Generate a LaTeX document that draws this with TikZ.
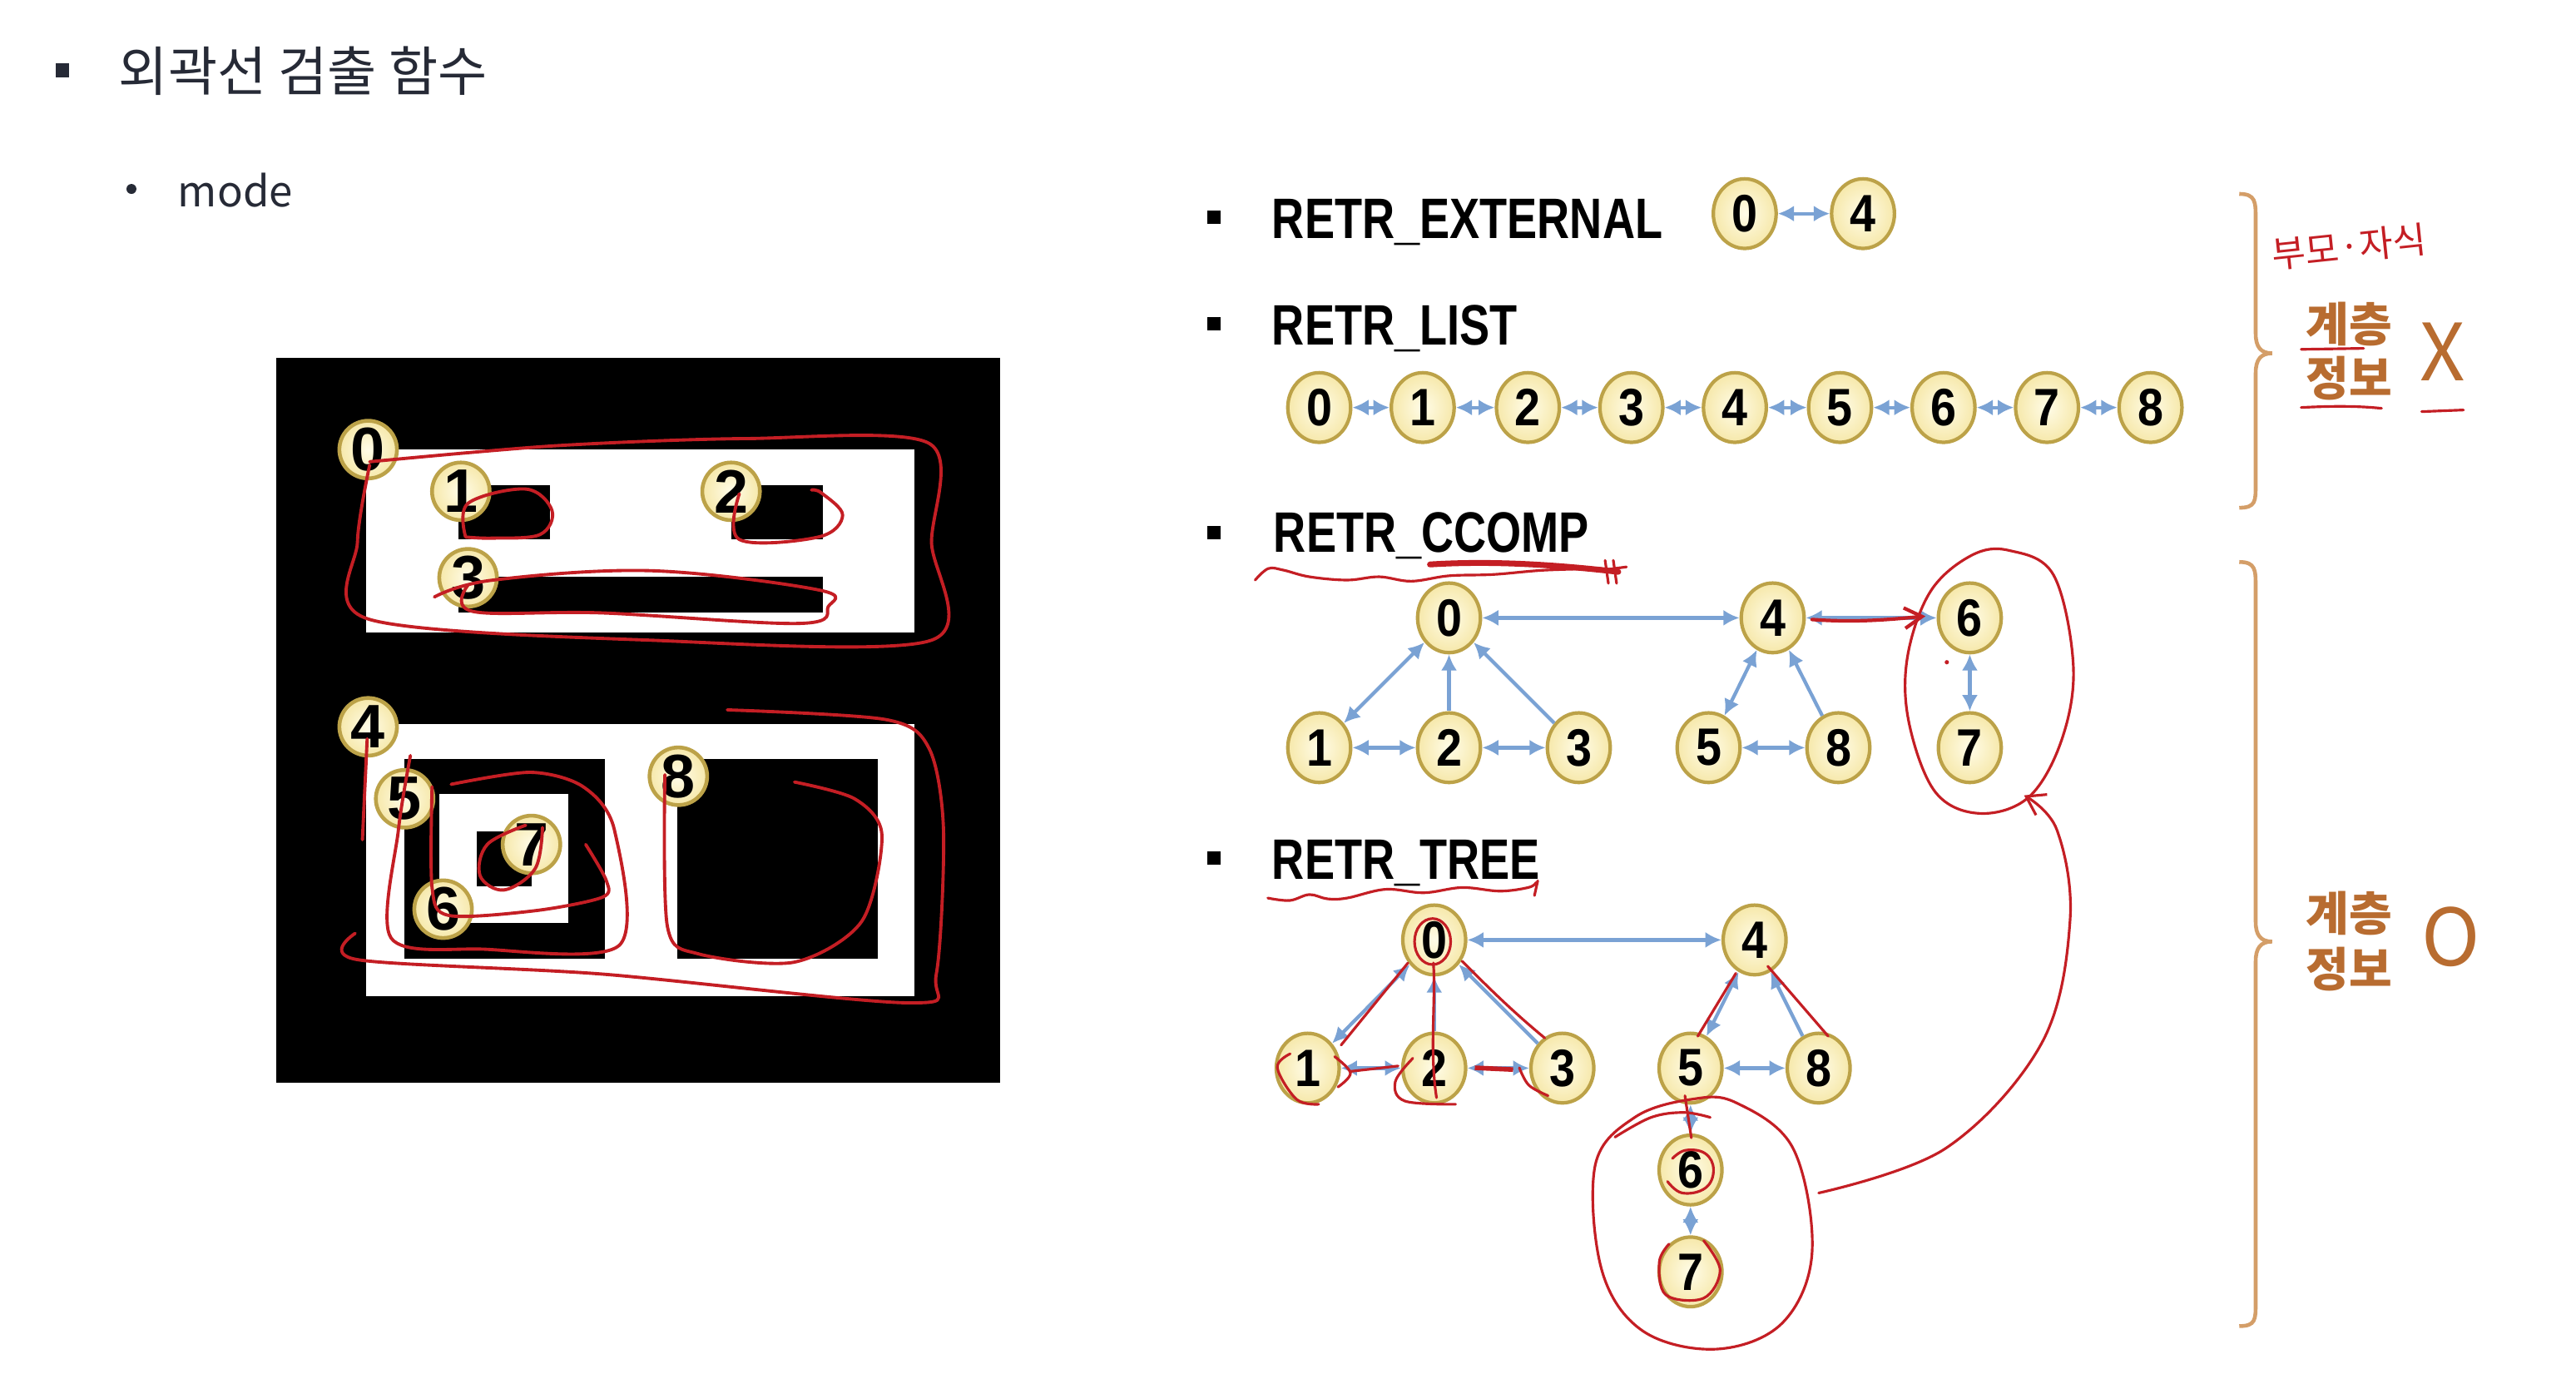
\documentclass[tikz,border=0pt]{standalone}
\usepackage{fontspec}
\setmainfont{Noto Sans CJK KR}
\newfontfamily\krfont{Noto Sans CJK KR}
\newfontfamily\numfont{Liberation Sans}
\usetikzlibrary{arrows.meta,shapes.geometric}
\definecolor{hand}{RGB}{196,30,36}
\definecolor{edgeblue}{RGB}{122,162,212}
\definecolor{badgeline}{RGB}{188,162,72}
\definecolor{copper}{RGB}{184,108,48}
\definecolor{bracec}{RGB}{212,158,104}
\definecolor{ink}{RGB}{38,42,54}
\definecolor{creamin}{RGB}{255,252,232}
\definecolor{creamout}{RGB}{246,232,170}
\tikzset{
  badge/.style={ellipse, draw=badgeline, line width=1.2pt, inner color=creamin, outer color=creamout,
    minimum width=21.5pt, minimum height=23.8pt, inner sep=0pt,
    font=\numfont\bfseries\fontsize{18}{18}\selectfont},
  lbadge/.style={circle, draw=badgeline, line width=1.3pt, inner color=creamin, outer color=creamout,
    minimum size=19.7pt, inner sep=0pt, font=\numfont\bfseries\fontsize{21}{21}\selectfont},
  bi/.style={draw=edgeblue, line width=1.2pt, arrows={Latex[length=5.5pt,width=5.5pt]-Latex[length=5.5pt,width=5.5pt]}},
  uni/.style={draw=edgeblue, line width=1.2pt, arrows={-Latex[length=5.5pt,width=5.5pt]}},
  redline/.style={draw=hand, line width=0.9pt, line cap=round, line join=round},
  redthick/.style={draw=hand, line width=1.1pt, line cap=round, line join=round},
  bul/.style={rectangle, fill=black, minimum size=4.6pt, inner sep=0pt},
  retr/.style={anchor=base west, inner sep=0pt, font=\numfont\bfseries\fontsize{19.5}{20}\selectfont},
  kor/.style={inner sep=0pt, text=copper, font=\krfont\bfseries\fontsize{16}{16}\selectfont},
  big/.style={inner sep=0pt, text=copper, font=\krfont\fontsize{27}{28}\selectfont},
  brc/.style={draw=bracec, line width=1.3pt}
}
\newcommand{\nar}[1]{\scalebox{0.88}[1]{#1}}
\begin{document}
\begin{tikzpicture}[x=0.01974cm, y=-0.01974cm]
\useasboundingbox (0,0) rectangle (1568,842);
\fill[white] (0,0) rectangle (1568,842);

% ---------- title ----------
\node[rectangle, fill=ink, minimum size=4.8pt, inner sep=0pt] (tb) at (38,43) {};
\node[anchor=west, inner sep=0pt, text=ink, font=\krfont\fontsize{18.3}{19}\selectfont] (title) at (72,43) {외곽선 검출 함수};
\node[circle, fill=ink, minimum size=3.4pt, inner sep=0pt] (mb) at (80,115) {};
\node[anchor=west, inner sep=0pt, text=ink, font=\krfont\fontsize{14.5}{15}\selectfont] (mode) at (108,116) {mode};

% ---------- left image ----------
\fill[black] (168,218) rectangle (609,659);
\fill[white] (222.9,273.6) rectangle (556.7,384.7);
\fill[black] (279,295.5) rectangle (334.6,328.3);
\fill[black] (445,295.5) rectangle (501,328.3);
\fill[black] (279,350.8) rectangle (501,373);
\fill[white] (222.9,440.8) rectangle (556.7,606);
\fill[black] (246,461.8) rectangle (368,583.5);
\fill[white] (267.3,483.2) rectangle (345.7,561.5);
\fill[black] (290.1,506) rectangle (323.5,539.3);
\fill[black] (412,461.8) rectangle (534.2,583.5);

\node[lbadge] (L0) at (224.1,273.6) {0};
\node[lbadge] (L1) at (280.5,299) {1};
\node[lbadge] (L2) at (445,299) {2};
\node[lbadge] (L3) at (284.9,351.6) {3};
\node[lbadge] (L4) at (224.1,442.3) {4};
\node[lbadge] (L5) at (246.3,486.1) {5};
\node[lbadge] (L6) at (269.7,553.3) {6};
\node[lbadge] (L7) at (323.5,513.9) {7};
\node[lbadge] (L8) at (412.9,472.4) {8};

% red contours on left image
\draw[redthick] plot[smooth, tension=0.5] coordinates {(225,281) (337.5,271.3) (454.4,266.9) (565.5,269.8) (567,330) (567,389.6) (396,389.6) (223.5,376.5) (217.6,329.7) (225,283)};
\draw[redthick] plot[smooth, tension=0.6] coordinates {(283.4,326.8) (284.9,306.3) (320,297.6) (336,310.7) (328.7,325.3) (300,327.5) (283.4,326.8)};
\draw[redthick] plot[smooth, tension=0.6] coordinates {(450,300.5) (450,328.3) (498.2,326.8) (512.9,313.6) (500,300) (493.9,298.2)};
\draw[redthick] plot[smooth, tension=0.6] coordinates {(264.4,363.3) (299.5,353.1) (396,347.3) (498.2,359) (504.1,369.2) (486.5,379.4) (366.7,373) (287.8,372.1) (284.9,356)};
\draw[redthick] (223.5,449.6) -- (220.6,511);
\draw[redthick] plot[smooth, tension=0.5] coordinates {(216.2,568) (217.6,584) (366.7,592.8) (553.8,610.3) (569.9,592.8) (574.3,505.1) (565.5,455.4) (539.2,437.9) (442.7,432)};
\draw[redthick] plot[smooth, tension=0.5] coordinates {(249.8,459.8) (242.5,505.1) (238.1,570.9) (293.6,577.6) (376.9,575.3) (374,505.1) (355,478.8) (322.9,470) (274.6,477.3)};
\draw[redthick] plot[smooth, tension=0.5] coordinates {(263,478.8) (263,540.2) (273.2,557.1) (325.8,554.2) (366.7,546) (369,535.8) (356.5,513.9)};
\draw[redthick] plot[smooth, tension=0.6] coordinates {(330.2,503.6) (325.8,528.5) (306.8,541.6) (292.2,532.9) (296.6,513.9) (320,502.2)};
\draw[redthick] plot[smooth, tension=0.5] coordinates {(404.7,471.5) (406.2,563.6) (425.2,580.5) (483.6,585.5) (524.6,560.6) (536.8,508) (520.2,486.1) (483.6,475.9)};

% ---------- RETR_EXTERNAL ----------
\node[bul] (b1) at (739,132) {};
\node[retr] (lext) at (774,145) {\scalebox{0.79}[1]{RETR\_EXTERNAL}};
\node[badge] (E0) at (1062,130) {\nar{0}};
\node[badge] (E4) at (1134,130) {\nar{4}};
\draw[bi] (E0) -- (E4);

% ---------- RETR_LIST ----------
\node[bul] (b2) at (739,197) {};
\node[retr] (llist) at (774,210) {\scalebox{0.79}[1]{RETR\_LIST}};
\node[badge] (S0) at (803,248) {\nar{0}};
\node[badge] (S1) at (866,248) {\nar{1}};
\node[badge] (S2) at (930,248) {\nar{2}};
\node[badge] (S3) at (993,248) {\nar{3}};
\node[badge] (S4) at (1056,248) {\nar{4}};
\node[badge] (S5) at (1120,248) {\nar{5}};
\node[badge] (S6) at (1183,248) {\nar{6}};
\node[badge] (S7) at (1246,248) {\nar{7}};
\node[badge] (S8) at (1309,248) {\nar{8}};
\foreach \a/\b in {0/1,1/2,2/3,3/4,4/5,5/6,6/7,7/8} \draw[bi] (S\a) -- (S\b);

% ---------- RETR_CCOMP ----------
\node[bul] (b3) at (739,324) {};
\node[retr] (lccomp) at (775,336) {\scalebox{0.79}[1]{RETR\_CCOMP}};
\node[badge] (C0) at (882,376) {\nar{0}};
\node[badge] (C4) at (1079,376) {\nar{4}};
\node[badge] (C6) at (1199,376) {\nar{6}};
\node[badge] (C1) at (803,455) {\nar{1}};
\node[badge] (C2) at (882,455) {\nar{2}};
\node[badge] (C3) at (961,455) {\nar{3}};
\node[badge] (C5) at (1040,455) {\nar{5}};
\node[badge] (C8) at (1119,455) {\nar{8}};
\node[badge] (C7) at (1199,455) {\nar{7}};
\draw[bi] (C0) -- (C4);
\draw[bi] (C4) -- (C6);
\draw[bi] (C0) -- (C1);
\draw[uni] (C2) -- (C0);
\draw[uni] (C3) -- (C0);
\draw[bi] (C1) -- (C2);
\draw[bi] (C2) -- (C3);
\draw[bi] (C4) -- (C5);
\draw[uni] (C8) -- (C4);
\draw[bi] (C5) -- (C8);
\draw[bi] (C6) -- (C7);

% ---------- RETR_TREE ----------
\node[bul] (b4) at (739,522) {};
\node[retr] (ltree) at (774,535) {\scalebox{0.79}[1]{RETR\_TREE}};
\node[badge] (T0) at (873,572) {\nar{0}};
\node[badge] (T4) at (1068,572) {\nar{4}};
\node[badge] (T1) at (796,650) {\nar{1}};
\node[badge] (T2) at (873,650) {\nar{2}};
\node[badge] (T3) at (951,650) {\nar{3}};
\node[badge] (T5) at (1029,650) {\nar{5}};
\node[badge] (T8) at (1107,650) {\nar{8}};
\node[badge] (T6) at (1029,712) {\nar{6}};
\node[badge] (T7) at (1029,774) {\nar{7}};
\draw[bi] (T0) -- (T4);
\draw[bi] (T0) -- (T1);
\draw[uni] (T2) -- (T0);
\draw[uni] (T3) -- (T0);
\draw[bi] (T1) -- (T2);
\draw[bi] (T2) -- (T3);
\draw[bi] (T4) -- (T5);
\draw[uni] (T8) -- (T4);
\draw[bi] (T5) -- (T8);
\draw[bi] (T5) -- (T6);
\draw[bi] (T6) -- (T7);

% ---------- red annotations, right ----------
% CCOMP underline
\draw[redline] plot[smooth, tension=0.6] coordinates {(764,353) (772,346) (781.4,347) (797,351) (820,353) (839.5,351) (859,353.7) (882,350.4) (909,349.6) (940,347) (975,346)};
\draw[hand, line width=2pt, line cap=round] (870.4,343.5) .. controls (910,341) and (950,344) .. (985,348);
\draw[redline] (977,341) -- (979,355);
\draw[redline] (982,341) -- (984,355);
\draw[redline] (975,347) -- (990,345);
% CCOMP 4 -> 6
\draw[hand, line width=1.2pt, line cap=round, arrows={-Straight Barb[length=6pt,width=7pt]}] (1103,377) .. controls (1130,379) and (1150,377) .. (1172,375);
\fill[hand] (1185,403) circle[radius=1.3];
% CCOMP group ellipse
\draw[redline] plot[smooth cycle, tension=0.6] coordinates {(1223,335) (1250,350) (1262,405) (1255,450) (1235,485) (1205,495) (1178,482) (1162,440) (1161,400) (1175,360) (1200,338)};
% TREE underline
\draw[redline] plot[smooth, tension=0.6] coordinates {(771.7,546.5) (785,548) (797,544.4) (808,547) (820,546.5) (843.4,541.2) (866.7,543.3) (890,540.1) (913,542.3) (930.6,540) (935,537)};
\draw[redline] (936,536) -- (934,545);
% TREE group ellipse
\draw[redline] plot[smooth cycle, tension=0.6] coordinates {(1029.5,669) (1056.6,671) (1091.5,699) (1103,762) (1085,805) (1045,821) (1000,810) (975,773) (971,709) (995,680)};
\draw[redline] plot[smooth, tension=0.6] coordinates {(983,692) (1005,680) (1025,677) (1041,680)};
% arc from tree group to ccomp group
\draw[redline, arrows={-Straight Barb[length=6pt,width=8pt]}] plot[smooth, tension=0.6] coordinates {(1107,726) (1184.5,698.7) (1242.7,634.9) (1260,560.4) (1252,505) (1232,484)};
% tree edges overlays
\draw[redline] (816.3,636) -- (857,586);
\draw[redline] (874.4,668) .. controls (870,640) and (874,610) .. (872.5,586);
\draw[redline] (940.3,631.7) .. controls (920,615) and (905,600) .. (890,584.9);
\draw[redline] (822,652) -- (851,648.7);
\draw[hand, line width=1.6pt] (897.7,649.8) -- (921,650.9);
\draw[redline] (1056.6,592.3) -- (1033.4,630.6);
\draw[redline] (1076,588) -- (1112.8,630.6);
\draw[redline] (1025.6,666.8) -- (1029.5,692.4);
% tree node circles
\draw[redline] (872,573) circle[x radius=11, y radius=14];
\draw[redline] plot[smooth, tension=0.6] coordinates {(785.3,641.3) (777.5,649.8) (789.2,669) (802.7,672)};
\draw[redline] plot[smooth, tension=0.6] coordinates {(812.4,643) (822,653) (814.4,661.5)};
\draw[redline] plot[smooth, tension=0.6] coordinates {(860,644) (849.3,658.3) (855,670) (886,672)};
\draw[redline] plot[smooth, tension=0.6] coordinates {(924.8,649.8) (930.6,660.4) (942.3,666.8)};
\draw[redline] plot[smooth, tension=0.7] coordinates {(1018,705) (1026,700) (1038,702) (1043,712) (1038,723) (1024,726) (1015,719)};
\draw[redline] plot[smooth, tension=0.6] coordinates {(1037,755) (1047,773) (1037,790) (1014,788) (1010,768) (1016,757)};

% ---------- braces and labels ----------
\draw[brc] (1363,118) .. controls (1373,118) and (1373,123) .. (1373,133) -- (1373,203) .. controls (1373,211) and (1376,215) .. (1383,215) .. controls (1376,215) and (1373,219) .. (1373,227) -- (1373,295) .. controls (1373,305) and (1373,309) .. (1363,309);
\draw[brc] (1363,342) .. controls (1373,342) and (1373,347) .. (1373,357) -- (1373,561) .. controls (1373,569) and (1376,573) .. (1383,573) .. controls (1376,573) and (1373,577) .. (1373,585) -- (1373,793) .. controls (1373,803) and (1373,807) .. (1363,807);

\node[inner sep=0pt, text=hand, font=\krfont\fontsize{12.5}{13}\selectfont, rotate=6] (pc) at (1430,150) {부모·자식};
\node[kor] (k1) at (1430,197) {계층};
\node[kor] (k2) at (1430,230) {정보};
\node[big] (xx) at (1487,214) {X};
\draw[redline] (1400.7,212.6) -- (1438.7,212);
\draw[redline] (1400.7,248) .. controls (1420,247) and (1435,247) .. (1449.6,248.5);
\draw[redline] (1474,250.5) -- (1499.5,249.5);

\node[kor] (k3) at (1430,556) {계층};
\node[kor] (k4) at (1430,590) {정보};
\node[big] (oo) at (1492,570) {O};
\end{tikzpicture}
\end{document}
